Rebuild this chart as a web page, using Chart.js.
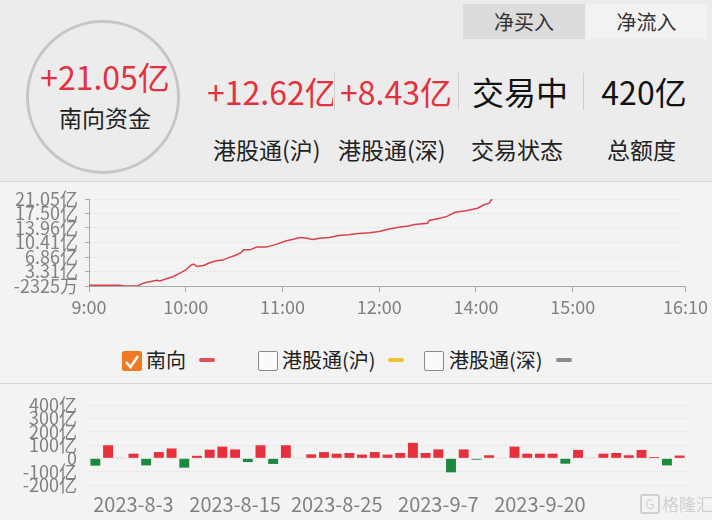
<!DOCTYPE html>
<html>
<head>
<meta charset="utf-8">
<script src="https://cdn.jsdelivr.net/npm/chart.js@4"></script>
<style>
  body { margin: 0; width: 712px; height: 520px; overflow: hidden; background: #f3f3f3;
         font-family: "Noto Sans CJK SC", sans-serif; position: relative; }
  .abs { position: absolute; }
  #top { left: 0; top: 0; width: 712px; height: 181px; background: #ececec; border-bottom: 1px solid #d6d6d6; }
  .tab { top: 4px; height: 35px; line-height: 35px; text-align: center; font-size: 20px; color: #333; }
  .red { color: #e2323e; }
  .big { font-size: 32px; line-height: 40px; top: 71px; white-space: nowrap; overflow: hidden; }
  .lab { font-size: 23px; line-height: 30px; top: 134px; color: #222; white-space: nowrap; }
  .sep { width: 1px; background: #cfcfcf; top: 73px; height: 37px; }
  #legend { left: 0; top: 327px; width: 712px; height: 56px; border-bottom: 1px solid #d6d6d6; }
  .cb { top: 24px; width: 18px; height: 18px; border: 1px solid #8a8a8a; border-radius: 2px; background: #fafafa; }
  .lt { top: 18px; font-size: 20px; line-height: 30px; color: #222; }
  .dash { top: 31px; width: 16px; height: 4px; border-radius: 2px; }
  canvas { display: block; }
</style>
</head>
<body>
<div id="top" class="abs">
  <div class="abs tab" style="left:463px;width:122px;background:#dcdcdc;">净买入</div>
  <div class="abs tab" style="left:586px;width:121px;background:#f2f2f2;">净流入</div>
  <div class="abs" style="left:26px;top:20px;width:148px;height:148px;border:3px solid #c6c6c6;border-radius:50%;"></div>
  <div class="abs red" style="left:20px;width:170px;top:57px;text-align:center;font-size:32px;line-height:38px;">+21.05亿</div>
  <div class="abs" style="left:20px;width:170px;top:101px;text-align:center;font-size:23px;line-height:32px;color:#222;">南向资金</div>
  <div class="abs big red" style="left:207px;width:126px;text-align:right;">+12.62亿</div>
  <div class="abs sep" style="left:334px;"></div>
  <div class="abs big red" style="left:335px;width:122px;text-align:center;">+8.43亿</div>
  <div class="abs sep" style="left:458px;"></div>
  <div class="abs big" style="left:470px;width:100px;text-align:center;color:#111;">交易中</div>
  <div class="abs sep" style="left:583px;"></div>
  <div class="abs big" style="left:592px;width:104px;text-align:center;color:#111;">420亿</div>
  <div class="abs lab" style="left:213px;">港股通(沪)</div>
  <div class="abs lab" style="left:338px;">港股通(深)</div>
  <div class="abs lab" style="left:471px;">交易状态</div>
  <div class="abs lab" style="left:607px;">总额度</div>
</div>

<div class="abs" style="left:0;top:182px;width:712px;height:144px;">
  <canvas id="flowChart" width="712" height="144"></canvas>
</div>

<div id="legend" class="abs">
  <div class="abs cb" style="left:122px;background:#f07a22;border-color:#f07a22;">
    <svg width="18" height="18" viewBox="0 0 18 18"><path d="M3 9 L7.5 14 L15 3" stroke="#fff" stroke-width="2.4" fill="none"/></svg>
  </div>
  <div class="abs lt" style="left:146px;">南向</div>
  <div class="abs dash" style="left:199px;background:#e0505a;"></div>
  <div class="abs cb" style="left:258px;"></div>
  <div class="abs lt" style="left:282px;">港股通(沪)</div>
  <div class="abs dash" style="left:388px;background:#f2c12e;"></div>
  <div class="abs cb" style="left:424px;"></div>
  <div class="abs lt" style="left:449px;">港股通(深)</div>
  <div class="abs dash" style="left:556px;background:#8c8c8c;"></div>
</div>

<div class="abs" style="left:0;top:384px;width:712px;height:136px;">
  <canvas id="dailyChart" width="712" height="136"></canvas>
</div>

<div class="abs" style="left:640px;top:493px;width:72px;white-space:nowrap;font-size:17px;line-height:22px;color:#d0d0d0;">
  <span style="display:inline-block;width:16px;height:16px;border:2px solid #d0d0d0;border-radius:3px;text-align:center;line-height:16px;font-size:13px;vertical-align:2px;margin-right:2px;">G</span>格隆汇
</div>

<script>
// intraday southbound net buy (亿), minutes since 9:00 with lunch break removed
const lineMinutes = [0, 19, 22, 30, 34, 37, 42, 44, 48, 52, 57, 60, 63, 65, 67, 71, 75, 79, 83, 87,
  91, 94, 96, 100, 104, 110, 116, 122, 126, 131, 135, 139, 143, 149, 155, 161, 167, 174, 180,
  186, 192, 198, 202, 210, 211, 217, 222, 227, 233, 241, 245, 248, 250];
const lineValues = [-0.07, -0.07, -0.23, -0.23, 0.52, 0.77, 1.19, 1.02, 1.52, 2.02, 3.02, 3.69, 4.78, 5.11, 4.52, 4.78, 5.44, 5.94, 6.11, 6.78,
  7.28, 7.86, 8.61, 8.61, 9.28, 9.28, 9.95, 10.78, 11.12, 11.62, 11.45, 11.12, 11.45, 11.62, 12.12, 12.29, 12.62, 12.79, 13.12,
  13.71, 14.12, 14.46, 14.79, 15.12, 15.79, 16.29, 16.79, 17.80, 18.13, 18.80, 19.63, 19.97, 21.05];

const timeTicks = [0, 60, 120, 180, 240, 300, 370];
const timeLabels = ["9:00", "10:00", "11:00", "12:00", "14:00", "15:00", "16:10"];
const flowTicks = [-0.2325, 3.31, 6.86, 10.41, 13.96, 17.50, 21.05];
const flowLabels = ["-2325万", "3.31亿", "6.86亿", "10.41亿", "13.96亿", "17.50亿", "21.05亿"];

// daily net buy (亿)
const dates = ["2023-7-31", "2023-8-1", "2023-8-2", "2023-8-3", "2023-8-4", "2023-8-7", "2023-8-8", "2023-8-9",
  "2023-8-10", "2023-8-11", "2023-8-14", "2023-8-15", "2023-8-16", "2023-8-17", "2023-8-18", "2023-8-21",
  "2023-8-22", "2023-8-23", "2023-8-24", "2023-8-25", "2023-8-28", "2023-8-29", "2023-8-30", "2023-8-31",
  "2023-9-4", "2023-9-5", "2023-9-6", "2023-9-7", "2023-9-11", "2023-9-12", "2023-9-13", "2023-9-14",
  "2023-9-15", "2023-9-18", "2023-9-19", "2023-9-20", "2023-9-21", "2023-9-22", "2023-9-25", "2023-9-26",
  "2023-9-27", "2023-10-9", "2023-10-10", "2023-10-11", "2023-10-12", "2023-10-13", "2023-10-16"];
const dailyNet = [-55, 98, 3, 35, -53, 47, 74, -70, 19, 65, 88, 67, -28, 98, -42, 98, 4, 30, 47, 35,
  40, 28, 47, 28, 40, 116, 40, 67, -105, 67, -10, 23, 4, 88, 35, 35, 35, -40, 63, 3,
  35, 40, 23, 63, 10, -53, 21];
const shownDates = ["2023-8-3", "2023-8-15", "2023-8-25", "2023-9-7", "2023-9-20"];

Chart.defaults.font.family = '"Noto Sans CJK SC", sans-serif';
Chart.defaults.color = "#808080";
Chart.defaults.animation = false;

new Chart(document.getElementById("flowChart"), {
  type: "line",
  data: {
    datasets: [{
      label: "南向",
      data: lineMinutes.map((m, i) => ({ x: m, y: lineValues[i] })),
      borderColor: "#d9414e",
      borderWidth: 1.5,
      pointRadius: 0,
      tension: 0,
    }],
  },
  options: {
    responsive: false,
    maintainAspectRatio: false,
    layout: { padding: { top: 17, right: 24, left: 0, bottom: 0 } },
    plugins: { legend: { display: false }, tooltip: { enabled: false } },
    scales: {
      x: {
        type: "linear",
        min: 0,
        max: 370,
        afterBuildTicks: (s) => { s.ticks = timeTicks.map((v) => ({ value: v })); },
        afterFit: (s) => { s.height = 40; },
        ticks: {
          autoSkip: false, maxRotation: 0, padding: 4,
          font: { size: 18 },
          callback: (v) => timeLabels[timeTicks.indexOf(v)],
        },
        grid: { drawOnChartArea: false, drawTicks: true, tickLength: 6, tickColor: "#a8a8a8" },
        border: { display: true, color: "#a8a8a8", width: 1 },
      },
      y: {
        min: -0.2325,
        max: 21.05,
        afterBuildTicks: (s) => { s.ticks = flowTicks.map((v) => ({ value: v })); },
        afterFit: (s) => { s.width = 89; },
        ticks: {
          autoSkip: false, padding: 7,
          font: { size: 18, lineHeight: 1 },
          callback: (v) => flowLabels[flowTicks.indexOf(v)],
        },
        grid: { color: "#d2d2d2", tickLength: 4, tickColor: "#a8a8a8", tickBorderDash: [] },
        border: { display: true, color: "#a8a8a8", width: 1, dash: [1, 3] },
      },
    },
  },
});

new Chart(document.getElementById("dailyChart"), {
  type: "bar",
  data: {
    labels: dates,
    datasets: [{
      label: "南向",
      data: dailyNet,
      backgroundColor: dailyNet.map((v) => (v >= 0 ? "#e8303c" : "#1b8a3e")),
      barPercentage: 0.78,
      categoryPercentage: 1,
    }],
  },
  options: {
    responsive: false,
    maintainAspectRatio: false,
    layout: { padding: { top: 16, right: 26, left: 0, bottom: 0 } },
    plugins: { legend: { display: false }, tooltip: { enabled: false } },
    scales: {
      x: {
        afterFit: (s) => { s.height = 35; },
        ticks: {
          autoSkip: false, maxRotation: 0, padding: 7,
          font: { size: 20 },
          callback: function (v) {
            const d = this.getLabelForValue(v);
            return shownDates.includes(d) ? d : "";
          },
        },
        grid: { display: false, drawTicks: false },
        border: { display: false },
      },
      y: {
        min: -200,
        max: 400,
        afterFit: (s) => { s.width = 89; },
        ticks: {
          stepSize: 100, autoSkip: false, padding: 12,
          font: { size: 18, lineHeight: 1 },
          callback: (v) => (v === 0 ? "0" : v + "亿"),
        },
        grid: { color: "#d2d2d2", drawTicks: false },
        border: { display: false, dash: [1, 3] },
      },
    },
  },
});
</script>
</body>
</html>
